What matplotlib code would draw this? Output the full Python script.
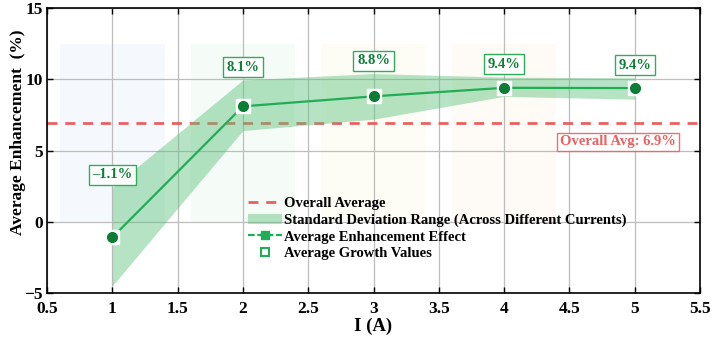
import matplotlib
matplotlib.use("Agg")
import matplotlib.pyplot as plt
from matplotlib.lines import Line2D
from matplotlib.patches import Patch

plt.rcParams["font.family"] = ["Liberation Serif", "DejaVu Serif"]
plt.rcParams["font.weight"] = "bold"

# dados
correntes = [1, 2, 3, 4, 5]
media = [-1.1, 8.1, 8.8, 9.4, 9.38]
banda_sup = [2.4, 9.95, 10.4, 10.15, 10.1]
banda_inf = [-4.5, 6.4, 7.2, 8.8, 8.6]
media_geral = 6.9
faixas_x = [(0.6, 1.4), (1.6, 2.4), (2.6, 3.4), (3.6, 4.4)]
faixas_cor = ["#e8f0fc", "#e8f8ec", "#fdfbe8", "#fdf3e6"]
faixas_y = (0.0, 12.5)

verde_linha = "#1fae55"
verde_escuro = "#0b7d34"
verde_banda = "#5cc27c"
vermelho = "#ea6060"

fig = plt.figure(figsize=(7.16, 3.45), dpi=100)
ax = fig.add_axes([0.0656, 0.1507, 0.9121, 0.8261])

# faixas de fundo
for (x0, x1), cor in zip(faixas_x, faixas_cor):
    ax.fill_between([x0, x1], faixas_y[0], faixas_y[1], color=cor, alpha=0.4, lw=0, zorder=0)

ax.axhline(media_geral, color=vermelho, lw=2, linestyle=(0, (3.6, 2.8)), zorder=2)
ax.fill_between(correntes, banda_inf, banda_sup, color=verde_banda, alpha=0.45, lw=0, zorder=3)
ax.plot(correntes, media, color=verde_linha, lw=1.6, zorder=4)
ax.plot(correntes, media, "s", ms=10, mfc="white", mec="white", zorder=5)
ax.plot(correntes, media, "o", ms=7, mfc=verde_escuro, mec=verde_escuro, zorder=6)

# rótulos
for x, v, s in zip(correntes, media, banda_sup):
    txt = f"{v:.1f}%".replace("-", "\u2013")
    ax.text(x, s + 0.9, txt, ha="center", va="center", fontsize=10.5, fontweight="bold",
            color=verde_escuro, zorder=7,
            bbox=dict(boxstyle="square,pad=0.25", fc="white", ec="#2fae5a", lw=1))

ax.text(4.87, 5.6, f"Overall Avg: {media_geral:.1f}%", ha="center", va="center", fontsize=10.5,
        fontweight="bold", color=vermelho, zorder=7,
        bbox=dict(boxstyle="square,pad=0.2", fc="white", ec=vermelho, lw=1, alpha=0.9))

ax.set_xlim(0.5, 5.5)
ax.set_ylim(-5, 15)
ax.set_xticks([0.5, 1, 1.5, 2, 2.5, 3, 3.5, 4, 4.5, 5, 5.5])
ax.set_xticklabels(["0.5", "1", "1.5", "2", "2.5", "3", "3.5", "4", "4.5", "5", "5.5"])
ax.set_yticks([-5, 0, 5, 10, 15])
ax.grid(True, color="#bdbdbd", lw=0.9, zorder=1)
ax.set_axisbelow(True)
ax.tick_params(direction="in", top=True, right=True, labelsize=12.5, length=4, width=1)
ax.tick_params(axis="x", pad=6)
ax.tick_params(axis="y", pad=3)
for lbl in ax.get_xticklabels() + ax.get_yticklabels():
    lbl.set_fontweight("bold")
for sp in ax.spines.values():
    sp.set_linewidth(1.2)

ax.set_xlabel("I (A)", fontsize=13.5, fontweight="bold", labelpad=0)
ax.set_ylabel("Average Enhancement  (%)", fontsize=12.5, fontweight="bold")
ax.yaxis.set_label_coords(-0.032, 0.565)

handles = [
    Line2D([], [], color=vermelho, lw=2, linestyle=(0, (3.6, 2.8))),
    Patch(facecolor=verde_banda, alpha=0.45, lw=0),
    Line2D([], [], color=verde_linha, lw=1.6, marker="s", ms=6, mfc=verde_linha, mec=verde_linha,
           linestyle=(0, (3, 1.2))),
    Line2D([], [], color=verde_linha, lw=0, marker="s", ms=6, mfc="white", mec=verde_linha, mew=1.5),
]
labels = ["Overall Average", "Standard Deviation Range (Across Different Currents)",
          "Average Enhancement Effect", "Average Growth Values"]
leg = ax.legend(handles, labels, loc="upper left", bbox_to_anchor=(0.308, 0.336), frameon=False,
                borderpad=0, borderaxespad=0, handlelength=2.3, handletextpad=0.15,
                labelspacing=0.22, prop={"size": 10.5, "weight": "bold"})

fig.savefig("out.png", dpi=100)
